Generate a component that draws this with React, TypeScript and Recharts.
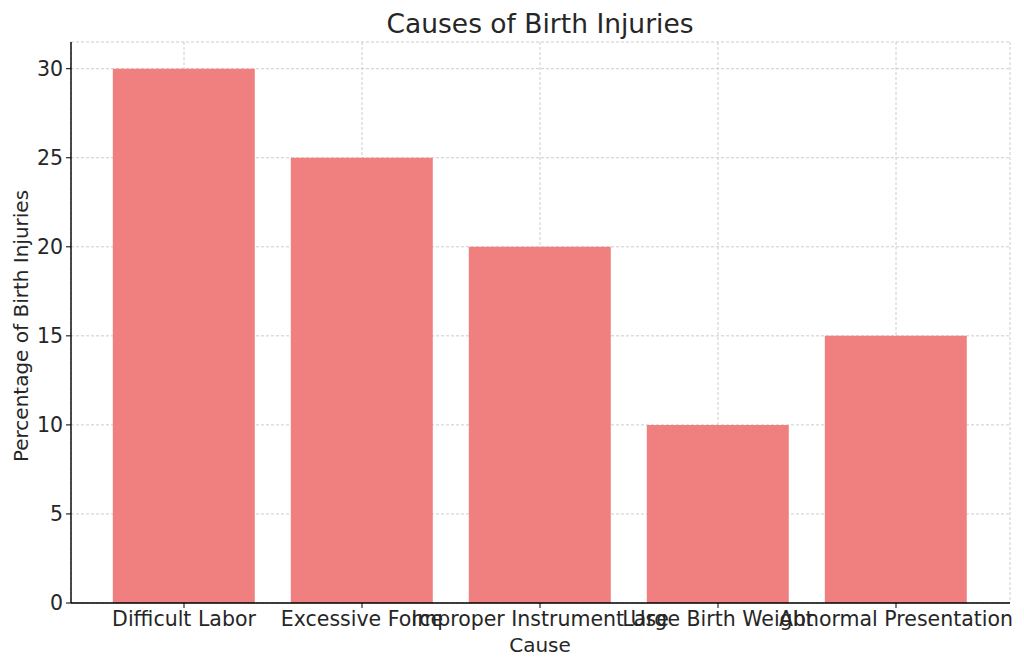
import React from "react";
import { BarChart, Bar, XAxis, YAxis, CartesianGrid } from "recharts";

const causes = ["Difficult Labor", "Excessive Force", "Improper Instrument Use", "Large Birth Weight", "Abnormal Presentation"];
const percentages = [30, 25, 20, 10, 15];
const yTicks = [0, 5, 10, 15, 20, 25, 30];

const data = causes.map((c, i) => ({ cause: c, value: percentages[i] }));

const FONT = "'DejaVu Sans', sans-serif";
const TEXT = "#262626";

export default function App() {
  return (
    <div style={{ position: "absolute", left: 0, top: 0, width: 1024, height: 668, background: "#fff", fontFamily: FONT }}>
      <BarChart
        width={1024}
        height={668}
        data={data}
        margin={{ top: 42, right: 14, bottom: 35, left: 0 }}
        barCategoryGap="10%"
      >
        <text x={540} y={23} textAnchor="middle" dominantBaseline="central" fontSize={26.5} fill={TEXT} fontFamily={FONT}>
          Causes of Birth Injuries
        </text>
        <text x={540} y={645} textAnchor="middle" dominantBaseline="central" fontSize={20} fill={TEXT} fontFamily={FONT}>
          Cause
        </text>
        <text
          x={21}
          y={326}
          textAnchor="middle"
          dominantBaseline="central"
          fontSize={20}
          fill={TEXT}
          fontFamily={FONT}
          transform="rotate(-90 21 326)"
        >
          Percentage of Birth Injuries
        </text>
        <XAxis
          dataKey="cause"
          height={30}
          padding={{ left: 24, right: 25 }}
          interval={0}
          tickSize={5}
          tickMargin={3}
          stroke="#000"
          tick={{ fill: TEXT, fontSize: 20.5, fontFamily: FONT }}
          tickLine={{ stroke: "#000" }}
          axisLine={{ stroke: "#000", strokeWidth: 1.4 }}
        />
        <YAxis
          width={71}
          domain={[0, 31.5]}
          ticks={yTicks}
          allowDataOverflow
          tickSize={5}
          tickMargin={3}
          stroke="#000"
          tick={{ fill: TEXT, fontSize: 20.5, fontFamily: FONT }}
          tickLine={{ stroke: "#000" }}
          axisLine={{ stroke: "#000", strokeWidth: 1.4 }}
        />
        <Bar dataKey="value" fill="#F08080" isAnimationActive={false} />
        <CartesianGrid stroke="#cccccc" strokeDasharray="3 2" strokeWidth={1} />
      </BarChart>
    </div>
  );
}
